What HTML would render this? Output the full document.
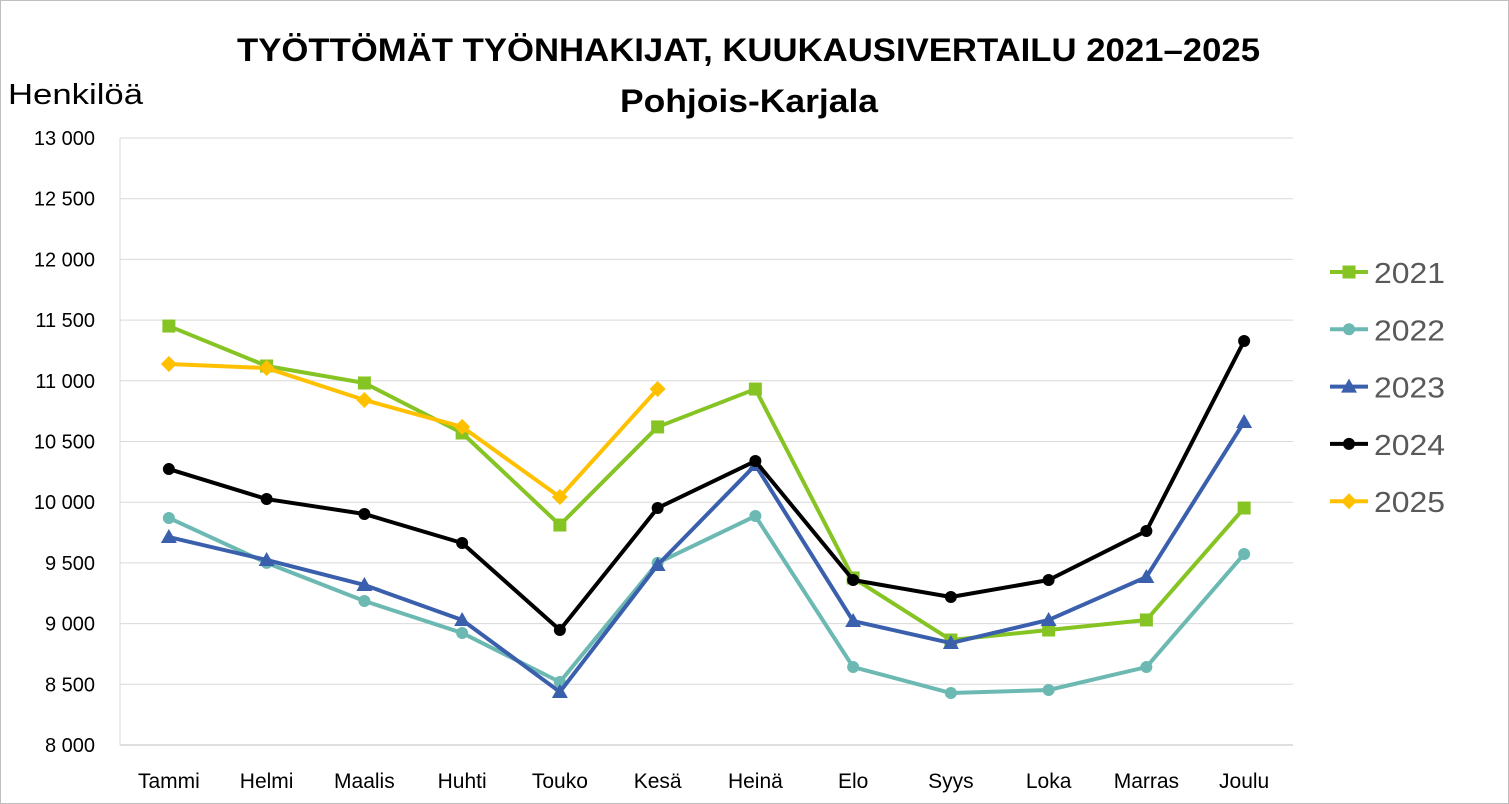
<!DOCTYPE html>
<html><head><meta charset="utf-8"><style>
html,body{margin:0;padding:0;background:#fff;}
svg{display:block;font-family:"Liberation Sans",sans-serif;}
</style></head><body>
<svg id="chart" width="1509" height="804" viewBox="0 0 1509 804">
<rect x="0.5" y="0.5" width="1508" height="803" fill="#fff" stroke="#bfbfbf"/>
<text x="237" y="61" textLength="1023" lengthAdjust="spacingAndGlyphs" font-size="32" font-weight="bold">TYÖTTÖMÄT TYÖNHAKIJAT, KUUKAUSIVERTAILU 2021–2025</text>
<text x="620" y="112" textLength="258" lengthAdjust="spacingAndGlyphs" font-size="32" font-weight="bold">Pohjois-Karjala</text>
<text x="8" y="104" textLength="135" lengthAdjust="spacingAndGlyphs" font-size="29" fill="#000">Henkilöä</text>
<g id="grid"></g><g id="series"></g><g id="legend"></g>
</svg>
<script>
const categories=["Tammi","Helmi","Maalis","Huhti","Touko","Kesä","Heinä","Elo","Syys","Loka","Marras","Joulu"];
const yTicks=[8000,8500,9000,9500,10000,10500,11000,11500,12000,12500,13000];
const years=["2021","2022","2023","2024","2025"];
const v2021=[11451,11122,10982,10570,9812,10620,10932,9376,8865,8947,9030,9952];
const v2022=[9870,9500,9186,8923,8519,9500,9886,8642,8428,8453,8642,9573];
const v2023=[9713,9524,9318,9030,8437,9483,10306,9021,8840,9030,9384,10661];
const v2024=[10273,10026,9903,9664,8947,9952,10339,9359,9219,9359,9763,11328];
const v2025=[11138,11105,10842,10620,10043,10932];
const seriesData=[v2021,v2022,v2023,v2024,v2025];
const colors=["#86c424","#6cb8b2","#3a5fac","#000000","#ffc000"];
const markers=["square","circle","triangle","circle","diamond"];
const NS="http://www.w3.org/2000/svg";
const L=120,R=1293,T=138,B=745,yMin=8000,yMax=13000;
const step=(R-L)/categories.length;
const x=i=>L+step*(i+0.5);
const y=v=>B-(v-yMin)/(yMax-yMin)*(B-T);
function mk(tag,attrs,parent){const e=document.createElementNS(NS,tag);for(const k in attrs)e.setAttribute(k,attrs[k]);parent.appendChild(e);return e;}
const grid=document.getElementById('grid');
yTicks.forEach(t=>{
 const ln=mk('line',{x1:L,x2:R,y1:y(t),y2:y(t),stroke:t===yMin?'#bfbfbf':'#d9d9d9','stroke-width':1},grid);
 
 
 const tx=mk('text',{x:95,y:y(t)+7,'text-anchor':'end','font-size':20},grid);
 tx.textContent=t.toLocaleString('en-US').replace(',',' ');
 
 
});
const ax=mk('line',{x1:L,x2:L,y1:T,y2:B,stroke:'#d9d9d9'},grid);


categories.forEach((c,i)=>{
 const tx=mk('text',{x:x(i),y:788,'text-anchor':'middle','font-size':21},grid);
 tx.textContent=c;
 
 
});
function marker(type,cx,cy,col,parent){
 let e;
 if(type==='square')e=mk('rect',{x:cx-6.5,y:cy-6.5,width:13,height:13,fill:col},parent);
 else if(type==='circle')e=mk('circle',{cx:cx,cy:cy,r:6,fill:col},parent);
 else if(type==='triangle')e=mk('polygon',{points:`${cx},${cy-8} ${cx+8},${cy+6} ${cx-8},${cy+6}`,fill:col},parent);
 else e=mk('polygon',{points:`${cx},${cy-8} ${cx+8},${cy} ${cx},${cy+8} ${cx-8},${cy}`,fill:col},parent);
 return e;
}
const sg=document.getElementById('series');
seriesData.forEach((vals,s)=>{
 const g=mk('g',{},sg);
 
 
 const pl=mk('polyline',{points:vals.map((v,i)=>x(i)+','+y(v)).join(' '),fill:'none',stroke:colors[s],'stroke-width':4,'stroke-linejoin':'round'},g);
 
 
 vals.forEach((v,i)=>{
  const m=marker(markers[s],x(i),y(v),colors[s],g);
  
  
 });
});
const lg=document.getElementById('legend');
years.forEach((yr,s)=>{
 const cy=272+s*57.3;
 const g=mk('g',{},lg);
 
 
 mk('line',{x1:1330,x2:1368,y1:cy,y2:cy,stroke:colors[s],'stroke-width':4},g);
 marker(markers[s],1349,cy,colors[s],g);
 const t=mk('text',{x:1374,y:cy+11,'font-size':29,fill:'#595959',textLength:71,lengthAdjust:'spacingAndGlyphs'},g);
 t.textContent=yr;
});
</script>
</body></html>
